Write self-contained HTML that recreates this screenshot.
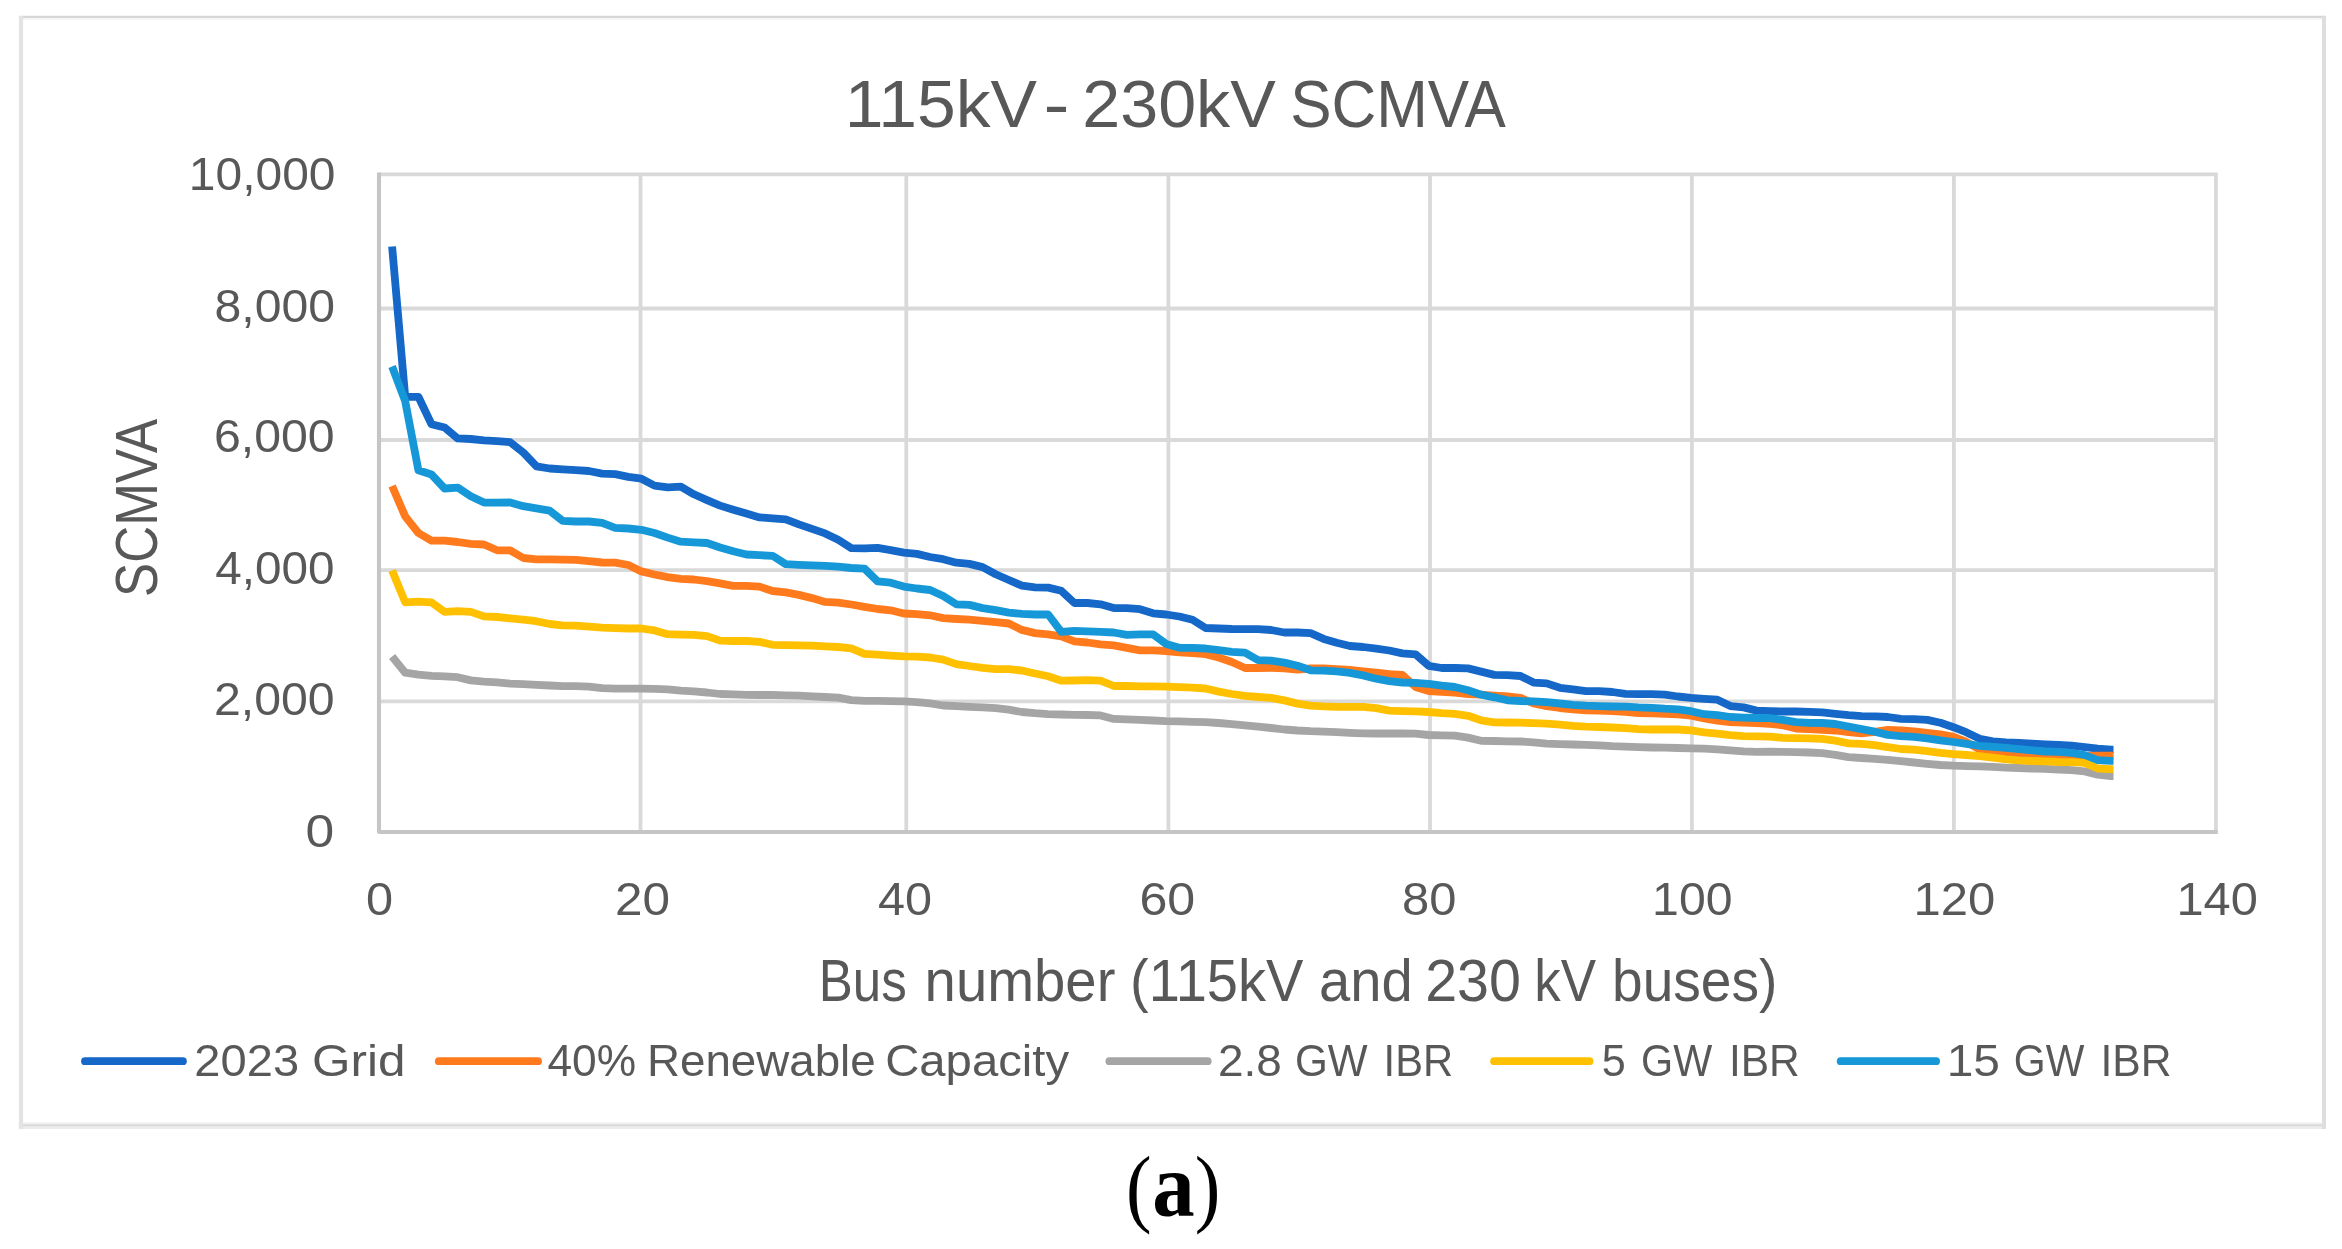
<!DOCTYPE html>
<html lang="en"><head><meta charset="utf-8"><title>115kV - 230kV SCMVA</title>
<style>html,body{margin:0;padding:0;background:#fff;}body{width:2342px;height:1249px;overflow:hidden;}svg{display:block;}text{font-family:"Liberation Sans",sans-serif;fill:#595959;}text.cap{font-family:"Liberation Serif",serif;fill:#000;}</style></head><body>
<svg width="2342" height="1249" viewBox="0 0 2342 1249">
<rect x="0" y="0" width="2342" height="1249" fill="#fff"/>
<defs><filter id="soft" filterUnits="userSpaceOnUse" x="0" y="0" width="2342" height="1249"><feGaussianBlur stdDeviation="0.65"/></filter></defs>
<g filter="url(#soft)">
<g fill="none">
<path d="M18.9 17H2326" stroke="#d6d6d6" stroke-width="2.3"/>
<path d="M18.9 19H2326" stroke="#f6f6f6" stroke-width="1.8"/>
<path d="M18.9 1126.6H2326" stroke="#ececec" stroke-width="4.8"/>
<path d="M18.9 1123.2H2326" stroke="#f3f3f3" stroke-width="2.4"/>
<path d="M18.9 1125.2H2326" stroke="#d9d9d9" stroke-width="2"/>
<path d="M21 15.9V1128.9" stroke="#e3e3e3" stroke-width="4.2"/>
<path d="M2324 15.9V1128.9" stroke="#dedede" stroke-width="4"/>
</g>
<path d="M379.0 701.4H2217.8M379.0 570.2H2217.8M379.0 440.0H2217.8M379.0 308.5H2217.8M379.0 174.3H2217.8M640.5 172.4V832.0M906.3 172.4V832.0M1168.4 172.4V832.0M1430.0 172.4V832.0M1691.9 172.4V832.0M1953.9 172.4V832.0M2215.9 172.4V832.0" fill="none" stroke="#d9d9d9" stroke-width="3.8"/>
<path d="M379.0 172.4V832.0H2217.8" fill="none" stroke="#c5c5c5" stroke-width="4.1" stroke-linejoin="round"/>
<g fill="none" stroke-width="7.8" stroke-linejoin="round" stroke-linecap="butt">
<path d="M392.1 246.5L405.2 396.8L418.4 396.8L431.5 424.3L444.6 427.5L457.7 438.4L470.8 439.0L484.0 440.3L497.1 441.2L510.2 442.2L523.3 452.5L536.4 466.3L549.6 468.5L562.7 469.4L575.8 470.1L588.9 471.0L602.1 473.6L615.2 474.2L628.3 476.8L641.4 478.7L654.5 485.6L667.7 487.3L680.8 486.7L693.9 494.3L707.0 500.1L720.1 505.6L733.3 509.7L746.4 513.6L759.5 517.4L772.6 518.4L785.7 519.3L798.9 524.4L812.0 528.9L825.1 533.4L838.2 539.8L851.3 548.1L864.5 548.4L877.6 547.9L890.7 550.1L903.8 552.6L916.9 553.9L930.1 557.0L943.2 559.2L956.3 562.7L969.4 563.9L982.6 567.1L995.7 574.2L1008.8 580.0L1021.9 585.7L1035.0 587.4L1048.2 587.6L1061.3 590.8L1074.4 603.0L1087.5 603.0L1100.6 604.3L1113.8 608.1L1126.9 608.1L1140.0 609.2L1153.1 613.3L1166.2 614.5L1179.4 616.5L1192.5 619.7L1205.6 628.0L1218.7 628.5L1231.8 629.0L1245.0 629.1L1258.1 629.1L1271.2 630.0L1284.3 632.5L1297.5 632.5L1310.6 633.2L1323.7 638.9L1336.8 642.8L1349.9 646.0L1363.1 647.0L1376.2 648.6L1389.3 650.5L1402.4 653.4L1415.5 654.3L1428.7 665.8L1441.8 668.0L1454.9 668.0L1468.0 668.4L1481.1 671.6L1494.3 674.9L1507.4 675.1L1520.5 676.0L1533.6 682.6L1546.7 683.4L1559.9 687.8L1573.0 689.4L1586.1 691.1L1599.2 691.1L1612.3 692.0L1625.5 693.9L1638.6 694.2L1651.7 694.2L1664.8 694.6L1678.0 696.5L1691.1 697.8L1704.2 698.8L1717.3 699.7L1730.4 706.1L1743.6 707.4L1756.7 710.6L1769.8 711.1L1782.9 711.5L1796.0 711.5L1809.2 711.9L1822.3 712.3L1835.4 713.8L1848.5 715.1L1861.6 716.1L1874.8 716.4L1887.9 717.0L1901.0 718.9L1914.1 719.2L1927.2 719.9L1940.4 722.8L1953.5 727.2L1966.6 732.4L1979.7 738.8L1992.8 741.3L2006.0 742.5L2019.1 743.0L2032.2 743.7L2045.3 744.3L2058.5 744.8L2071.6 745.6L2084.7 747.1L2097.8 748.7L2110.9 749.6h2.6" stroke="#1268c8"/>
<path d="M392.1 486.0L405.2 516.4L418.4 533.0L431.5 540.7L444.6 540.7L457.7 542.0L470.8 543.9L484.0 544.5L497.1 550.3L510.2 550.3L523.3 558.0L536.4 559.3L549.6 559.3L562.7 559.7L575.8 559.9L588.9 561.2L602.1 562.5L615.2 562.7L628.3 565.0L641.4 571.4L654.5 574.5L667.7 577.1L680.8 578.9L693.9 579.5L707.0 581.2L720.1 583.4L733.3 585.9L746.4 585.9L759.5 586.6L772.6 591.0L785.7 592.3L798.9 594.9L812.0 598.1L825.1 601.9L838.2 602.6L851.3 604.5L864.5 606.8L877.6 609.0L890.7 610.3L903.8 613.5L916.9 614.1L930.1 615.3L943.2 618.1L956.3 619.0L969.4 619.7L982.6 620.9L995.7 622.2L1008.8 623.5L1021.9 629.9L1035.0 633.1L1048.2 634.4L1061.3 636.3L1074.4 641.4L1087.5 642.5L1100.6 644.3L1113.8 645.3L1126.9 647.8L1140.0 650.4L1153.1 650.4L1166.2 651.0L1179.4 652.3L1192.5 653.0L1205.6 654.2L1218.7 657.5L1231.8 662.0L1245.0 668.0L1258.1 668.0L1271.2 667.8L1284.3 668.4L1297.5 669.7L1310.6 668.5L1323.7 668.5L1336.8 669.2L1349.9 670.0L1363.1 671.3L1376.2 672.6L1389.3 674.2L1402.4 674.8L1415.5 687.0L1428.7 691.1L1441.8 691.8L1454.9 692.7L1468.0 694.0L1481.1 694.7L1494.3 695.6L1507.4 696.4L1520.5 697.8L1533.6 703.5L1546.7 706.1L1559.9 708.0L1573.0 709.3L1586.1 710.3L1599.2 710.6L1612.3 711.2L1625.5 711.9L1638.6 713.1L1651.7 713.4L1664.8 713.8L1678.0 714.4L1691.1 715.7L1704.2 718.3L1717.3 720.6L1730.4 722.1L1743.6 722.7L1756.7 723.1L1769.8 723.8L1782.9 725.3L1796.0 728.5L1809.2 729.2L1822.3 729.8L1835.4 730.5L1848.5 732.2L1861.6 733.3L1874.8 731.9L1887.9 729.8L1901.0 730.5L1914.1 731.5L1927.2 732.8L1940.4 734.3L1953.5 736.9L1966.6 742.0L1979.7 749.7L1992.8 751.6L2006.0 752.5L2019.1 753.5L2032.2 754.5L2045.3 755.4L2058.5 755.8L2071.6 756.0L2084.7 756.0L2097.8 755.7L2110.9 755.7h2.6" stroke="#ff7a1c"/>
<path d="M392.1 656.5L405.2 672.7L418.4 674.6L431.5 675.9L444.6 676.3L457.7 677.2L470.8 680.4L484.0 681.7L497.1 682.3L510.2 683.6L523.3 684.2L536.4 684.9L549.6 685.5L562.7 686.2L575.8 686.2L588.9 686.6L602.1 688.1L615.2 688.7L628.3 688.7L641.4 688.7L654.5 688.9L667.7 689.3L680.8 690.6L693.9 691.4L707.0 692.5L720.1 694.0L733.3 694.4L746.4 694.8L759.5 695.0L772.6 695.0L785.7 695.3L798.9 695.7L812.0 696.3L825.1 697.0L838.2 697.6L851.3 700.2L864.5 700.8L877.6 700.8L890.7 701.2L903.8 701.4L916.9 702.1L930.1 703.4L943.2 705.5L956.3 706.1L969.4 706.8L982.6 707.4L995.7 708.1L1008.8 709.7L1021.9 712.0L1035.0 713.2L1048.2 714.1L1061.3 714.5L1074.4 714.8L1087.5 715.0L1100.6 715.4L1113.8 718.9L1126.9 719.3L1140.0 719.9L1153.1 720.5L1166.2 721.2L1179.4 721.4L1192.5 721.8L1205.6 722.2L1218.7 723.0L1231.8 724.1L1245.0 725.4L1258.1 726.7L1271.2 728.0L1284.3 729.5L1297.5 730.5L1310.6 731.2L1323.7 731.6L1336.8 732.1L1349.9 732.8L1363.1 733.3L1376.2 733.5L1389.3 733.5L1402.4 733.5L1415.5 733.7L1428.7 735.0L1441.8 735.4L1454.9 735.7L1468.0 737.6L1481.1 740.8L1494.3 741.0L1507.4 741.4L1520.5 741.5L1533.6 742.3L1546.7 743.6L1559.9 744.1L1573.0 744.5L1586.1 744.9L1599.2 745.4L1612.3 746.2L1625.5 746.7L1638.6 747.1L1651.7 747.5L1664.8 747.7L1678.0 748.0L1691.1 748.4L1704.2 748.7L1717.3 749.3L1730.4 750.3L1743.6 751.3L1756.7 751.8L1769.8 751.7L1782.9 751.9L1796.0 752.2L1809.2 752.5L1822.3 753.2L1835.4 754.8L1848.5 757.1L1861.6 758.0L1874.8 758.9L1887.9 759.9L1901.0 761.2L1914.1 762.5L1927.2 763.8L1940.4 765.0L1953.5 765.7L1966.6 766.1L1979.7 766.3L1992.8 766.8L2006.0 767.6L2019.1 768.0L2032.2 768.5L2045.3 768.9L2058.5 769.5L2071.6 770.1L2084.7 771.4L2097.8 774.6L2110.9 776.2h2.6" stroke="#a5a5a5"/>
<path d="M392.1 570.5L405.2 602.3L418.4 601.6L431.5 602.3L444.6 611.9L457.7 611.2L470.8 611.9L484.0 616.4L497.1 617.0L510.2 618.3L523.3 619.6L536.4 621.2L549.6 624.0L562.7 625.3L575.8 625.6L588.9 626.6L602.1 627.6L615.2 628.1L628.3 628.5L641.4 628.5L654.5 630.4L667.7 634.2L680.8 634.6L693.9 634.8L707.0 636.1L720.1 640.6L733.3 641.0L746.4 641.0L759.5 641.9L772.6 644.8L785.7 645.1L798.9 645.3L812.0 645.7L825.1 646.4L838.2 647.0L851.3 648.3L864.5 653.8L877.6 654.7L890.7 655.6L903.8 656.4L916.9 656.6L930.1 657.5L943.2 659.6L956.3 664.1L969.4 666.0L982.6 667.9L995.7 669.2L1008.8 669.2L1021.9 670.5L1035.0 673.5L1048.2 676.2L1061.3 680.7L1074.4 680.5L1087.5 680.2L1100.6 680.7L1113.8 686.0L1126.9 686.0L1140.0 686.3L1153.1 686.4L1166.2 686.6L1179.4 687.2L1192.5 687.6L1205.6 688.5L1218.7 691.6L1231.8 694.0L1245.0 695.9L1258.1 697.0L1271.2 697.9L1284.3 700.4L1297.5 703.6L1310.6 705.6L1323.7 706.4L1336.8 706.8L1349.9 706.8L1363.1 706.8L1376.2 708.1L1389.3 710.7L1402.4 711.1L1415.5 711.3L1428.7 712.0L1441.8 713.2L1454.9 713.9L1468.0 715.8L1481.1 720.3L1494.3 722.4L1507.4 722.5L1520.5 722.7L1533.6 723.1L1546.7 723.6L1559.9 724.7L1573.0 725.9L1586.1 726.6L1599.2 727.0L1612.3 727.5L1625.5 728.2L1638.6 729.1L1651.7 729.5L1664.8 729.5L1678.0 729.5L1691.1 730.4L1704.2 732.3L1717.3 733.6L1730.4 735.2L1743.6 736.2L1756.7 736.4L1769.8 736.7L1782.9 737.8L1796.0 738.1L1809.2 738.4L1822.3 738.8L1835.4 740.7L1848.5 743.3L1861.6 743.9L1874.8 745.2L1887.9 747.1L1901.0 749.0L1914.1 749.7L1927.2 751.2L1940.4 752.9L1953.5 754.1L1966.6 755.0L1979.7 756.1L1992.8 757.6L2006.0 759.3L2019.1 760.4L2032.2 761.0L2045.3 761.4L2058.5 762.0L2071.6 762.2L2084.7 762.8L2097.8 768.5L2110.9 769.1h2.6" stroke="#ffc000"/>
<path d="M392.1 366.5L405.2 401.2L418.4 470.3L431.5 474.5L444.6 488.5L457.7 487.6L470.8 496.2L484.0 502.6L497.1 502.6L510.2 502.4L523.3 506.2L536.4 508.4L549.6 510.6L562.7 520.8L575.8 521.5L588.9 521.5L602.1 522.8L615.2 527.9L628.3 528.5L641.4 529.8L654.5 533.0L667.7 537.6L680.8 541.7L693.9 542.4L707.0 543.0L720.1 547.5L733.3 551.3L746.4 554.5L759.5 555.2L772.6 555.8L785.7 564.1L798.9 564.8L812.0 565.4L825.1 565.8L838.2 566.7L851.3 568.0L864.5 568.6L877.6 581.4L890.7 582.7L903.8 586.6L916.9 588.5L930.1 590.0L943.2 596.0L956.3 604.3L969.4 604.9L982.6 608.1L995.7 610.1L1008.8 612.6L1021.9 613.9L1035.0 614.5L1048.2 614.5L1061.3 631.8L1074.4 630.9L1087.5 631.4L1100.6 631.8L1113.8 632.5L1126.9 634.8L1140.0 634.4L1153.1 634.4L1166.2 644.0L1179.4 647.8L1192.5 647.8L1205.6 648.5L1218.7 650.1L1231.8 651.8L1245.0 652.6L1258.1 660.1L1271.2 660.7L1284.3 662.6L1297.5 665.8L1310.6 670.3L1323.7 670.6L1336.8 671.4L1349.9 672.9L1363.1 675.4L1376.2 678.7L1389.3 681.2L1402.4 682.5L1415.5 682.9L1428.7 683.8L1441.8 685.7L1454.9 687.0L1468.0 690.2L1481.1 694.7L1494.3 697.3L1507.4 700.3L1520.5 701.0L1533.6 701.4L1546.7 702.2L1559.9 703.5L1573.0 704.8L1586.1 705.7L1599.2 706.1L1612.3 706.5L1625.5 706.7L1638.6 707.4L1651.7 707.8L1664.8 708.7L1678.0 709.3L1691.1 711.2L1704.2 714.2L1717.3 715.1L1730.4 717.0L1743.6 717.6L1756.7 718.0L1769.8 718.2L1782.9 719.9L1796.0 722.1L1809.2 722.8L1822.3 723.0L1835.4 724.0L1848.5 726.6L1861.6 729.2L1874.8 731.7L1887.9 734.9L1901.0 736.2L1914.1 736.9L1927.2 738.4L1940.4 740.4L1953.5 742.0L1966.6 743.9L1979.7 745.8L1992.8 746.9L2006.0 747.8L2019.1 749.2L2032.2 750.4L2045.3 751.5L2058.5 751.9L2071.6 752.9L2084.7 755.0L2097.8 760.2L2110.9 760.9h2.6" stroke="#1598d8"/>
</g>
<path d="M85.0 1061.2H182.9" stroke="#1268c8" stroke-width="7.8" stroke-linecap="round" fill="none"/>
<path d="M438.8 1061.2H538.1" stroke="#ff7a1c" stroke-width="7.8" stroke-linecap="round" fill="none"/>
<path d="M1109.4 1061.2H1207.7" stroke="#a5a5a5" stroke-width="7.8" stroke-linecap="round" fill="none"/>
<path d="M1494.1 1061.2H1589.5" stroke="#ffc000" stroke-width="7.8" stroke-linecap="round" fill="none"/>
<path d="M1840.7 1061.2H1936.1" stroke="#1598d8" stroke-width="7.8" stroke-linecap="round" fill="none"/>
<text class="title" y="127.0" font-size="67.3"><tspan x="844.7" textLength="192.3" lengthAdjust="spacingAndGlyphs">115kV</tspan> <tspan x="1043.5" textLength="26.0" lengthAdjust="spacingAndGlyphs">-</tspan> <tspan x="1082.2" textLength="193.6" lengthAdjust="spacingAndGlyphs">230kV</tspan> <tspan x="1290.2" textLength="215.7" lengthAdjust="spacingAndGlyphs">SCMVA</tspan></text>
<text y="190.4" font-size="45.3"><tspan x="188.8" textLength="146.7" lengthAdjust="spacingAndGlyphs">10,000</tspan></text>
<text y="321.8" font-size="45.3"><tspan x="214.6" textLength="120.4" lengthAdjust="spacingAndGlyphs">8,000</tspan></text>
<text y="452.0" font-size="45.3"><tspan x="213.9" textLength="120.8" lengthAdjust="spacingAndGlyphs">6,000</tspan></text>
<text y="584.3" font-size="45.3"><tspan x="215.3" textLength="119.3" lengthAdjust="spacingAndGlyphs">4,000</tspan></text>
<text y="714.6" font-size="45.3"><tspan x="213.9" textLength="120.8" lengthAdjust="spacingAndGlyphs">2,000</tspan></text>
<text y="846.6" font-size="45.3"><tspan x="305.4" textLength="28.7" lengthAdjust="spacingAndGlyphs">0</tspan></text>
<text y="915.3" font-size="45.3"><tspan x="365.9" textLength="27.1" lengthAdjust="spacingAndGlyphs">0</tspan></text>
<text y="915.3" font-size="45.3"><tspan x="615.0" textLength="55.0" lengthAdjust="spacingAndGlyphs">20</tspan></text>
<text y="915.3" font-size="45.3"><tspan x="877.9" textLength="54.1" lengthAdjust="spacingAndGlyphs">40</tspan></text>
<text y="915.3" font-size="45.3"><tspan x="1139.4" textLength="55.8" lengthAdjust="spacingAndGlyphs">60</tspan></text>
<text y="915.3" font-size="45.3"><tspan x="1402.0" textLength="54.4" lengthAdjust="spacingAndGlyphs">80</tspan></text>
<text y="915.3" font-size="45.3"><tspan x="1652.1" textLength="80.4" lengthAdjust="spacingAndGlyphs">100</tspan></text>
<text y="915.3" font-size="45.3"><tspan x="1913.4" textLength="81.8" lengthAdjust="spacingAndGlyphs">120</tspan></text>
<text y="915.3" font-size="45.3"><tspan x="2176.4" textLength="81.4" lengthAdjust="spacingAndGlyphs">140</tspan></text>
<text class="xtitle" y="1000.8" font-size="58.8"><tspan x="818.7" textLength="88.0" lengthAdjust="spacingAndGlyphs">Bus</tspan> <tspan x="924.6" textLength="190.8" lengthAdjust="spacingAndGlyphs">number</tspan> <tspan x="1130.0" textLength="173.4" lengthAdjust="spacingAndGlyphs">(115kV</tspan> <tspan x="1319.1" textLength="93.7" lengthAdjust="spacingAndGlyphs">and</tspan> <tspan x="1425.2" textLength="95.8" lengthAdjust="spacingAndGlyphs">230</tspan> <tspan x="1534.3" textLength="61.8" lengthAdjust="spacingAndGlyphs">kV</tspan> <tspan x="1612.1" textLength="165.2" lengthAdjust="spacingAndGlyphs">buses)</tspan></text>
<text y="1076.2" font-size="44.9"><tspan x="194.3" textLength="104.8" lengthAdjust="spacingAndGlyphs">2023</tspan> <tspan x="312.0" textLength="93.4" lengthAdjust="spacingAndGlyphs">Grid</tspan></text>
<text y="1076.2" font-size="44.9"><tspan x="547.4" textLength="88.7" lengthAdjust="spacingAndGlyphs">40%</tspan> <tspan x="647.0" textLength="228.7" lengthAdjust="spacingAndGlyphs">Renewable</tspan> <tspan x="885.2" textLength="183.9" lengthAdjust="spacingAndGlyphs">Capacity</tspan></text>
<text y="1076.2" font-size="44.9"><tspan x="1218.0" textLength="63.9" lengthAdjust="spacingAndGlyphs">2.8</tspan> <tspan x="1295.0" textLength="72.7" lengthAdjust="spacingAndGlyphs">GW</tspan> <tspan x="1383.6" textLength="69.6" lengthAdjust="spacingAndGlyphs">IBR</tspan></text>
<text y="1076.2" font-size="44.9"><tspan x="1601.8" textLength="24.0" lengthAdjust="spacingAndGlyphs">5</tspan> <tspan x="1641.0" textLength="71.2" lengthAdjust="spacingAndGlyphs">GW</tspan> <tspan x="1728.9" textLength="70.8" lengthAdjust="spacingAndGlyphs">IBR</tspan></text>
<text y="1076.2" font-size="44.9"><tspan x="1946.7" textLength="53.3" lengthAdjust="spacingAndGlyphs">15</tspan> <tspan x="2013.8" textLength="70.5" lengthAdjust="spacingAndGlyphs">GW</tspan> <tspan x="2100.4" textLength="71.1" lengthAdjust="spacingAndGlyphs">IBR</tspan></text>
<text transform="translate(156.9 594.3) rotate(-90)" x="-2.6" y="0" font-size="58.8" textLength="178.1" lengthAdjust="spacingAndGlyphs">SCMVA</text>
</g>
<text class="cap"><tspan x="1125.9" y="1215.8" font-size="86.5" textLength="25.6" lengthAdjust="spacingAndGlyphs">(</tspan><tspan x="1152.3" font-weight="bold" y="1216.3" font-size="90.5" textLength="42.4" lengthAdjust="spacingAndGlyphs">a</tspan><tspan x="1194.7" y="1215.8" font-size="86.5" textLength="25.6" lengthAdjust="spacingAndGlyphs">)</tspan></text>
</svg></body></html>
